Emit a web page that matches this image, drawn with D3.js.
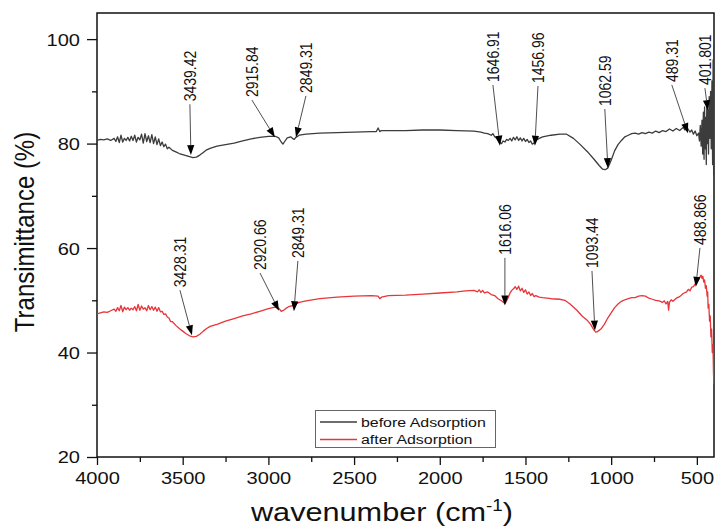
<!DOCTYPE html>
<html><head><meta charset="utf-8">
<script src="https://cdn.jsdelivr.net/npm/d3@7"></script>
<style>body{margin:0;background:#fff}svg{display:block;font-family:"Liberation Sans",Arial,sans-serif}</style>
</head><body>
<svg id="c" width="716" height="529"></svg>
<script>
// ---------- DATA ----------
const beforeWn = [4000,3980,3960,3940,3920,3900,3890,3880,3870,3860,3850,3840,3830,3820,3810,3800,3790,3780,3770,3760,3750,3740,3730,3720,3710,3700,3690,3680,3670,3660,3650,3640,3630,3620,3610,3600,3590,3580,3560,3540,3520,3500,3480,3460,3440,3420,3400,3380,3360,3340,3300,3250,3200,3150,3100,3050,3000,2960,2940,2925,2915,2905,2890,2870,2855,2849,2840,2820,2780,2700,2600,2500,2400,2370,2360,2350,2340,2300,2200,2100,2000,1900,1800,1760,1740,1720,1700,1690,1680,1670,1660,1650,1640,1630,1620,1610,1600,1590,1580,1570,1560,1550,1540,1530,1520,1510,1500,1490,1480,1470,1460,1450,1440,1420,1400,1350,1300,1260,1220,1180,1140,1100,1070,1050,1035,1020,1000,980,960,940,920,900,880,860,840,820,800,780,760,740,720,700,680,660,640,620,600,580,570,560,550,540,530,520,510,500,490,485,480,475,470,466,462,458,455,452,448,445,442,438,435,432,428,424,420,416,412,408,405,402,400];
const beforeT = [80.6,80.8,80.7,80.9,80.6,81.0,80.4,81.3,80.2,81.6,80.3,81.0,80.6,81.2,80.5,81.4,80.6,81.6,80.3,81.2,80.7,81.8,80.1,81.9,80.4,81.5,80.2,81.7,80.0,81.3,79.8,80.9,79.6,80.3,79.4,79.9,79.0,79.3,78.7,78.4,78.1,77.9,77.7,77.5,77.3,77.4,77.8,78.3,78.8,79.1,79.5,79.8,80.1,80.5,80.9,81.2,81.4,81.4,81.1,80.3,79.9,80.4,81.1,81.3,80.9,80.8,81.2,81.6,81.8,82.0,82.1,82.2,82.3,82.3,83.0,82.3,82.5,82.5,82.5,82.6,82.6,82.5,82.4,82.2,82.0,81.9,81.6,81.9,81.3,81.1,80.6,80.2,80.0,80.5,80.3,80.8,80.6,81.0,80.5,81.2,80.7,81.3,80.6,81.1,80.5,81.0,80.4,80.8,80.2,80.5,79.9,80.1,80.6,81.0,81.3,81.6,81.8,81.8,81.0,79.8,78.5,77.0,75.8,75.1,75.0,75.3,76.8,78.6,79.8,80.6,81.3,81.6,81.9,82.0,81.8,82.1,81.9,82.2,82.0,82.4,82.1,82.5,82.3,82.8,82.4,82.9,82.5,83.1,82.6,83.2,82.7,82.2,82.6,81.8,82.4,81.5,82.0,80.5,83.5,79.5,84.5,78.0,86.0,77.0,87.0,79.0,85.0,76.0,88.0,80.0,86.5,78.0,89.0,81.0,90.0,79.0,92.0,76.0,96.0,74.0,99.0];

const afterWn = [4000,3980,3960,3940,3920,3900,3890,3880,3870,3860,3850,3840,3830,3820,3810,3800,3790,3780,3770,3760,3750,3740,3730,3720,3710,3700,3690,3680,3670,3660,3650,3640,3630,3620,3610,3600,3590,3580,3570,3560,3540,3520,3500,3480,3460,3440,3420,3400,3380,3360,3340,3300,3250,3200,3150,3100,3050,3000,2960,2940,2925,2915,2900,2880,2860,2849,2840,2820,2780,2700,2600,2500,2400,2360,2350,2340,2300,2200,2100,2000,1900,1850,1800,1780,1770,1760,1750,1740,1720,1700,1680,1660,1640,1620,1610,1600,1590,1580,1570,1560,1550,1540,1530,1520,1510,1500,1490,1480,1470,1460,1450,1440,1420,1400,1350,1300,1270,1240,1200,1170,1140,1120,1100,1090,1080,1060,1040,1020,1000,980,960,940,920,900,880,860,840,820,800,780,760,740,720,700,690,680,670,665,660,650,640,620,600,580,560,550,540,530,520,510,500,490,480,475,470,465,460,455,450,445,440,437,434,430,426,422,418,414,410,406,403,400];
const afterT = [47.4,47.6,47.8,47.7,48.0,48.3,47.9,48.6,48.0,49.0,47.8,48.7,48.2,48.6,48.1,48.5,48.2,48.8,48.0,49.2,48.1,48.9,48.3,48.6,48.0,49.0,48.2,48.8,48.1,48.7,47.9,48.6,47.8,47.9,47.3,47.4,46.8,46.6,45.9,45.9,45.2,44.6,44.1,43.6,43.2,43.0,43.1,43.5,44.1,44.6,45.0,45.4,46.0,46.5,47.0,47.4,47.9,48.4,48.7,48.5,47.9,48.0,48.4,48.8,49.0,48.9,49.3,49.6,49.9,50.3,50.6,50.8,50.9,50.8,50.3,50.6,50.9,51.0,51.2,51.4,51.6,51.8,51.9,51.6,52.0,51.5,51.9,51.4,51.6,51.1,50.9,50.3,49.9,49.4,49.9,50.6,51.4,51.9,52.2,52.6,52.1,52.7,51.8,52.3,51.5,52.0,51.2,51.6,50.9,51.3,50.7,50.9,50.6,50.5,50.3,50.2,50.0,49.3,48.1,47.0,46.2,45.4,44.3,43.9,44.0,44.5,45.4,46.6,47.6,48.6,49.3,49.8,50.1,50.3,50.5,50.5,50.8,50.9,50.8,50.4,50.2,50.0,49.9,49.6,49.9,49.3,49.8,48.1,49.6,50.1,49.8,50.4,50.7,51.3,51.6,52.1,51.8,52.5,52.6,53.1,53.4,54.0,54.6,54.8,54.2,54.6,53.5,53.9,52.3,52.8,50.8,51.6,48.5,49.2,46.0,47.0,43.0,44.5,40.0,41.5,36.0,34.0];

const seriesNames = ["before Adsorption", "after Adsorption"];
const xTicks = [4000,3500,3000,2500,2000,1500,1000,500];
const xMinor = [3750,3250,2750,2250,1750,1250,750];
const yTicks = [20,40,60,80,100];
const yMinor = [30,50,70,90];

// annotations: [label, tip wavenumber, tip %T, label wavenumber, label-bottom %T]
const beforeAnno = [
  ["3439.42",3452,77.8,3458,88.1],
  ["2915.84",2962,81.2,3096,88.9],
  ["2849.31",2839,81.2,2781,89.7],
  ["1646.91",1649,79.6,1690,91.8],
  ["1456.96",1445,79.6,1427,91.6],
  ["1062.59",1019,75.3,1037,87.2],
  ["489.31",552,82.0,646,91.8],
  ["401.801",436,86.4,453,91.2]
];
const afterAnno = [
  ["3428.31",3446,43.3,3516,52.5],
  ["2920.66",2938,48.0,3049,55.8],
  ["2849.31",2851,47.9,2828,58.1],
  ["1616.06",1620,49.0,1620,58.7],
  ["1093.44",1095,44.2,1112,56.2],
  ["488.866",506,52.6,482,60.6]
];

// ---------- CHART ----------
const SX = 1.18; // horizontal text stretch of the original
const L = 97, R = 714, T = 13, B = 457;
const svg = d3.select("#c");
const x = d3.scaleLinear().domain([4000,400]).range([L,R]);
const y = d3.scaleLinear().domain([20,105]).range([B,T]);
const colors = ["#3c3c3c", "#e8353a"];

svg.append("defs").append("clipPath").attr("id","clip")
  .append("rect").attr("x",L).attr("y",T).attr("width",R-L).attr("height",B-T);

// axes
const gx = svg.append("g").attr("transform",`translate(0,${B})`)
  .call(d3.axisBottom(x).tickValues(xTicks).tickSize(8).tickPadding(6).tickFormat(d3.format("d")));
svg.append("g").attr("transform",`translate(0,${B})`)
  .call(d3.axisBottom(x).tickValues(xMinor).tickSize(5).tickFormat(""))
  .call(g=>g.select(".domain").remove());
const gy = svg.append("g").attr("transform",`translate(${L},0)`)
  .call(d3.axisLeft(y).tickValues(yTicks).tickSize(10).tickFormat(d3.format("d")));
svg.append("g").attr("transform",`translate(${L},0)`)
  .call(d3.axisLeft(y).tickValues(yMinor).tickSize(5).tickFormat(""))
  .call(g=>g.select(".domain").remove());
svg.selectAll(".tick line").attr("stroke","#111").attr("stroke-width",1.3);
svg.selectAll(".domain").remove();

gx.selectAll("text").attr("font-size",17).attr("fill","#111")
  .attr("font-family","Liberation Sans, Arial, sans-serif")
  .attr("y",15).attr("dy","0.71em").attr("transform",`scale(${SX},1)`);
gy.selectAll("text").attr("font-size",17).attr("fill","#111")
  .attr("font-family","Liberation Sans, Arial, sans-serif")
  .attr("x",-17/SX).attr("dy","0.35em").attr("transform",`scale(${SX},1)`);

// frame
svg.append("rect").attr("x",L).attr("y",T).attr("width",R-L).attr("height",B-T)
  .attr("fill","none").attr("stroke","#111").attr("stroke-width",1.5);

// lines
const line = d3.line().x(d=>x(d[0])).y(d=>y(d[1]));
const series = [d3.zip(beforeWn,beforeT), d3.zip(afterWn,afterT)];
const gl = svg.append("g").attr("clip-path","url(#clip)");
series.forEach((s,i)=>{
  gl.append("path").datum(s).attr("d",line).attr("fill","none")
    .attr("stroke",colors[i]).attr("stroke-width",1.3).attr("stroke-linejoin","round");
});

// annotations
function drawAnno(list){
  const g = svg.append("g");
  list.forEach(a=>{
    const [lab, tw, tv, lw, lv] = a;
    const tx = x(tw), ty = y(tv), lx = x(lw), ly = y(lv);
    g.append("text").text(lab).attr("font-size",14).attr("fill","#111")
      .attr("text-anchor","start").attr("dominant-baseline","central")
      .attr("transform",`translate(${lx},${ly}) scale(${SX},1) rotate(-90)`);
    const sx = lx, sy = ly + 3;
    const ang = Math.atan2(ty - sy, tx - sx);
    const hl = 10, hw = 3.6;
    const bx = tx - hl*Math.cos(ang), by = ty - hl*Math.sin(ang);
    g.append("line").attr("x1",sx).attr("y1",sy).attr("x2",bx).attr("y2",by)
      .attr("stroke","#222").attr("stroke-width",0.8);
    const px = -Math.sin(ang), py = Math.cos(ang);
    g.append("path").attr("d",`M${tx},${ty}L${bx+hw*px},${by+hw*py}L${bx-hw*px},${by-hw*py}Z`)
      .attr("fill","#000");
  });
}
drawAnno(beforeAnno);
drawAnno(afterAnno);

// legend
const lg = svg.append("g");
lg.append("rect").attr("x",315.5).attr("y",410.5).attr("width",180).attr("height",37)
  .attr("fill","#fff").attr("stroke","#666").attr("stroke-width",1);
seriesNames.forEach((n,i)=>{
  const yy = 422 + i*17.5;
  lg.append("line").attr("x1",320).attr("x2",357).attr("y1",yy).attr("y2",yy)
    .attr("stroke",colors[i]).attr("stroke-width",1.3);
  lg.append("text").text(n).attr("font-size",13.5).attr("fill","#111")
    .attr("dominant-baseline","central")
    .attr("transform",`translate(361,${yy}) scale(${SX},1)`);
});

// axis titles
svg.append("text").attr("font-size",26).attr("fill","#111").attr("text-anchor","middle")
  .attr("transform",`translate(382,521) scale(${SX},1)`)
  .call(t=>{
    t.append("tspan").text("wavenumber (cm");
    t.append("tspan").text("-1").attr("font-size",16).attr("dy",-10);
    t.append("tspan").text(")").attr("dy",10);
  });
svg.append("text").attr("font-size",24).attr("fill","#111").attr("text-anchor","middle")
  .attr("transform",`translate(34,232) scale(${SX},1) rotate(-90)`)
  .text("Transimittance (%)");
</script>
</body></html>
